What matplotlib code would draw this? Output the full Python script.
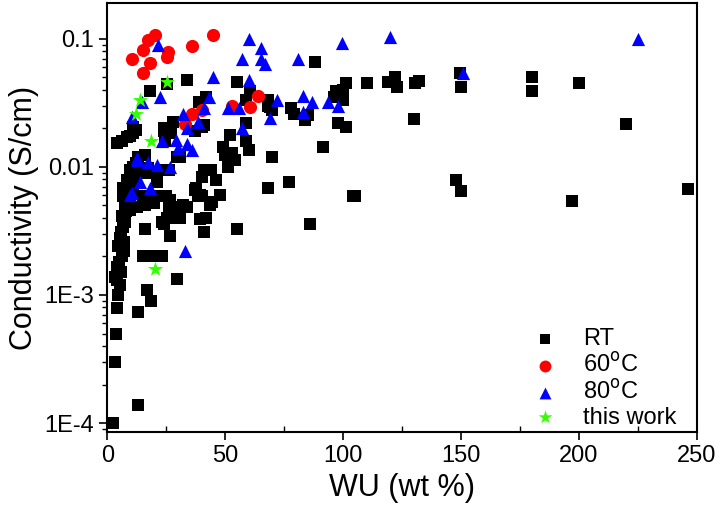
import matplotlib
matplotlib.use("Agg")
import matplotlib.pyplot as plt
from matplotlib.ticker import FixedLocator, FixedFormatter, LogLocator, MultipleLocator, NullFormatter

plt.rcParams["font.family"] = ["Liberation Sans", "DejaVu Sans"]

# RT data (WU wt%, conductivity S/cm)
rt_wu = [4.2, 8.4, 11, 10.5, 8.4, 6.8, 6.8, 7.6, 6.3, 6.8, 5.5, 4.7, 6.3, 4.2, 3.4, 5.5, 4.7,
         4.2, 13.1, 3.8, 3.4, 13.1, 2.5, 6.3, 9.5, 12, 9.5, 11, 8.4, 9.5, 8, 7.5, 5.8, 7, 5, 6,
         4, 7,
         88, 34, 25.4, 18, 55, 42, 39, 59, 68, 69, 78, 79, 85, 84, 41, 28, 11, 59, 24, 27, 52,
         59, 60, 49, 70, 31, 50, 53, 54, 91.5, 13, 16, 12, 26, 51, 77, 41, 40, 46, 68, 48, 25,
         37, 38.5, 19, 21,
         86, 43.6, 34, 31, 39.4, 26, 18, 20, 12.7, 25.4, 29.7, 24, 39.4, 42, 16, 26.7, 41, 55,
         15, 19.5, 23.3, 29.7, 17, 18.6,
         101, 110, 119, 122, 123, 130.5, 132, 149.6, 150, 180, 180, 200, 97, 100, 100, 96, 84,
         98, 101, 130, 220, 104, 105, 148, 150, 197, 246,
         60.6, 68, 70, 24, 24.6, 37, 40, 29.7, 11, 14, 17.4, 23, 44, 37.5, 11, 15, 20, 26.7,
         32, 44.5, 40, 23, 28, 31, 16, 19.5, 9.7]
rt_sigma = [0.0154, 0.017, 0.0185, 0.0089, 0.0079, 0.0069, 0.0059, 0.0049, 0.0041, 0.0034,
            0.0028, 0.0024, 0.0020, 0.00166, 0.00138, 0.0012, 0.001, 0.00079, 0.00074, 0.0005,
            0.0003, 0.000138, 0.0001, 0.016, 0.0175, 0.0195, 0.0095, 0.0075, 0.0063, 0.0055,
            0.0045, 0.0037, 0.0031, 0.0026, 0.0018, 0.0015, 0.0013, 0.0022,
            0.066, 0.048, 0.044, 0.039, 0.046, 0.035, 0.032, 0.033, 0.033, 0.0295, 0.029, 0.026,
            0.0255, 0.0234, 0.0214, 0.0224, 0.0204, 0.022, 0.020, 0.0185, 0.0178, 0.0158,
            0.0136, 0.0143, 0.012, 0.012, 0.0124, 0.0128, 0.0113, 0.0144, 0.012, 0.0124,
            0.0107, 0.0095, 0.010, 0.0076, 0.0095, 0.0083, 0.0079, 0.0069, 0.006, 0.0059,
            0.0066, 0.0059, 0.0089, 0.0076,
            0.0036, 0.005, 0.0049, 0.0049, 0.006, 0.0049, 0.0058, 0.0052, 0.0049, 0.004, 0.004,
            0.0036, 0.0039, 0.004, 0.0033, 0.0029, 0.0031, 0.0033, 0.002, 0.002, 0.002,
            0.00133, 0.0011, 0.00089,
            0.045, 0.045, 0.046, 0.050, 0.042, 0.045, 0.047, 0.054, 0.042, 0.050, 0.039, 0.045,
            0.039, 0.040, 0.033, 0.035, 0.024, 0.022, 0.0205, 0.0237, 0.0217, 0.0059, 0.0059,
            0.0079, 0.0065, 0.0054, 0.0067,
            0.039, 0.030, 0.028, 0.019, 0.016, 0.019, 0.0205, 0.012, 0.010, 0.009, 0.0098,
            0.0095, 0.0095, 0.0069, 0.0066, 0.0059, 0.0059, 0.0055, 0.005, 0.0053, 0.0059,
            0.0037, 0.004, 0.004, 0.005, 0.0052, 0.0046]

# 60 C data
t60_wu = [20.3, 17.4, 15.3, 10.5, 18.2, 25.8, 25.4, 15.3, 36, 45, 36, 33, 40, 53, 60.6, 64]
t60_sigma = [0.107, 0.098, 0.082, 0.069, 0.065, 0.079, 0.072, 0.054, 0.088, 0.107, 0.026,
             0.0215, 0.028, 0.030, 0.0295, 0.036]

# 80 C data
t80_wu = [21.6, 60, 65, 57, 65, 67, 81, 45, 60, 22.5, 14.8, 43, 41, 32, 51, 56, 34, 38.5, 72,
          83, 87, 93.6, 83, 69, 57, 23, 29, 30, 34, 36, 12.7, 17.4, 21, 26.7, 14, 18, 9.7, 33,
          99.6, 120, 225, 151, 98, 10.5, 12.6, 10.5]
t80_sigma = [0.089, 0.10, 0.085, 0.069, 0.069, 0.063, 0.069, 0.050, 0.048, 0.035, 0.032,
             0.035, 0.029, 0.026, 0.029, 0.029, 0.020, 0.0224, 0.033, 0.036, 0.032, 0.032,
             0.027, 0.024, 0.020, 0.016, 0.0163, 0.014, 0.015, 0.0135, 0.0117, 0.011, 0.0104,
             0.010, 0.0076, 0.0069, 0.006, 0.0022, 0.093, 0.104, 0.1, 0.054, 0.030, 0.0245,
             0.0113, 0.0063]

# this work
tw_wu = [25.4, 14, 12, 18.5, 20.3]
tw_sigma = [0.046, 0.033, 0.026, 0.016, 0.0016]

y_ticks = [1e-4, 1e-3, 1e-2, 1e-1]
y_tick_labels = ["1E-4", "1E-3", "0.01", "0.1"]


def main() -> None:
    fig = plt.figure(figsize=(7.2, 5.12), dpi=100)
    ax = fig.add_axes([0.149, 0.156, 0.819, 0.838])

    ax.scatter(rt_wu, rt_sigma, marker="s", s=64, c="black", linewidths=0, label="RT", zorder=2)
    ax.scatter(t60_wu, t60_sigma, marker="o", s=90, c="#ff0000", linewidths=0,
               label="60$^\\mathrm{o}$C", zorder=3)
    ax.scatter(t80_wu, t80_sigma, marker="^", s=90, c="#0000ff", linewidths=0,
               label="80$^\\mathrm{o}$C", zorder=4)
    ax.scatter(tw_wu, tw_sigma, marker="*", s=130, c="#33ff00", linewidths=0,
               label="this work", zorder=5)

    ax.set_yscale("log")
    ax.set_xlim(0, 250)
    ax.set_ylim(8.5e-5, 0.19)

    ax.xaxis.set_major_locator(MultipleLocator(50))
    ax.xaxis.set_minor_locator(MultipleLocator(25))
    ax.yaxis.set_major_locator(FixedLocator(y_ticks))
    ax.yaxis.set_major_formatter(FixedFormatter(y_tick_labels))
    ax.yaxis.set_minor_locator(LogLocator(base=10, subs=range(2, 10)))
    ax.yaxis.set_minor_formatter(NullFormatter())

    ax.tick_params(axis="both", which="major", direction="out", length=6, width=1.2,
                   labelsize=17, top=False, right=False)
    ax.tick_params(axis="y", which="minor", direction="out", length=3.5, width=1.0, right=False)
    ax.tick_params(axis="x", which="minor", direction="in", length=4, width=1.0, top=False)

    for sp in ax.spines.values():
        sp.set_linewidth(1.5)

    ax.set_xlabel("WU (wt %)", fontsize=22, labelpad=4)
    ax.set_ylabel("Conductivity (S/cm)", fontsize=22, labelpad=4)

    ax.legend(loc="lower left", bbox_to_anchor=(0.678, -0.025), frameon=False, fontsize=17,
              markerscale=0.9, handletextpad=0.6, labelspacing=0.12, borderaxespad=0.2)

    fig.savefig("out.png", dpi=100)


if __name__ == "__main__":
    main()
